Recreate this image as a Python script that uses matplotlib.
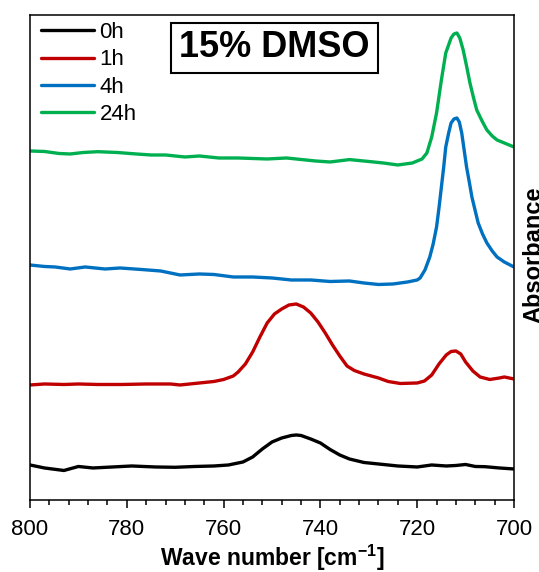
import matplotlib
matplotlib.use("Agg")
import matplotlib.pyplot as plt
from matplotlib.ticker import MultipleLocator

plt.rcParams['font.family'] = ['Liberation Sans', 'DejaVu Sans']
plt.rcParams['mathtext.fontset'] = 'custom'
plt.rcParams['mathtext.rm'] = 'Liberation Sans:bold'

# 0h
w0 = [800, 797, 793, 790, 787, 783, 779, 774, 770, 766, 762, 759, 756, 754, 752, 750, 748, 746, 745, 744,
      742, 740, 738, 736, 734, 731, 728, 724, 720, 717, 714, 712, 710, 708, 706, 703, 700]
a0 = [0.35, 0.32, 0.295, 0.335, 0.32, 0.33, 0.34, 0.33, 0.327, 0.335, 0.34, 0.35, 0.38, 0.43, 0.51, 0.58, 0.62, 0.645, 0.65, 0.645,
      0.61, 0.57, 0.505, 0.45, 0.41, 0.375, 0.36, 0.34, 0.33, 0.35, 0.34, 0.345, 0.355, 0.335, 0.333, 0.32, 0.31]

# 1h
w1 = [800, 797, 793, 790, 786, 781, 776, 771, 769, 765, 762, 760, 758, 757, 755.5, 754, 752.5, 751, 749.5, 748,
      746.5, 745, 743.5, 742, 740.5, 739, 737.5, 736, 734.5, 733, 731, 728, 726, 723.5, 720, 718.5, 717, 715.5, 714, 713,
      712, 711, 710, 708.5, 707, 705, 703, 702, 700]
a1 = [1.15, 1.16, 1.155, 1.16, 1.155, 1.155, 1.16, 1.16, 1.15, 1.17, 1.185, 1.205, 1.24, 1.28, 1.36, 1.48, 1.63, 1.77, 1.86, 1.91,
      1.95, 1.96, 1.93, 1.87, 1.78, 1.67, 1.55, 1.44, 1.34, 1.295, 1.26, 1.22, 1.185, 1.165, 1.17, 1.19, 1.25, 1.36, 1.45, 1.485,
      1.49, 1.46, 1.38, 1.29, 1.23, 1.205, 1.22, 1.23, 1.21]

# 4h
w4 = [800, 797, 794.8, 791.7, 788.6, 784.5, 781.4, 777, 773, 769, 765, 762, 758, 754, 750, 746, 742, 738, 734, 731,
      728, 725, 722, 720, 719.4, 718.4, 717.4, 716.7, 716, 715.5, 715, 714.5, 714.1, 713.5, 713, 712.4, 711.8, 711.3, 710.8, 710.3,
      709.8, 709.2, 708.7, 708, 707.4, 706.5, 705.6, 704.5, 703.5, 702, 700]
a4 = [2.35, 2.335, 2.33, 2.31, 2.33, 2.31, 2.32, 2.305, 2.29, 2.25, 2.26, 2.255, 2.23, 2.23, 2.22, 2.20, 2.20, 2.185, 2.19, 2.17,
      2.155, 2.16, 2.18, 2.20, 2.22, 2.30, 2.43, 2.56, 2.73, 2.92, 3.13, 3.34, 3.53, 3.67, 3.77, 3.81, 3.82, 3.78, 3.67, 3.50,
      3.33, 3.17, 3.03, 2.89, 2.77, 2.66, 2.57, 2.49, 2.43, 2.38, 2.33]

# 24h
w24 = [800, 797, 794, 791.7, 789, 786, 782, 778, 775, 772, 768, 765, 761, 757, 754, 751, 747, 744, 741, 738,
       734, 730, 727, 724, 721, 719, 718, 717, 716, 715, 714.1, 713, 712.4, 711.8, 711.2, 710.5, 709.8, 709.1, 708.4, 707.7,
       706.6, 705.6, 704.5, 703.5, 702, 700]
a24 = [3.49, 3.485, 3.465, 3.46, 3.475, 3.483, 3.475, 3.46, 3.45, 3.45, 3.43, 3.44, 3.42, 3.42, 3.415, 3.41, 3.42, 3.405, 3.39, 3.38,
       3.404, 3.385, 3.37, 3.35, 3.37, 3.41, 3.47, 3.63, 3.87, 4.20, 4.47, 4.62, 4.66, 4.67, 4.62, 4.50, 4.34, 4.17, 4.03, 3.90,
       3.79, 3.70, 3.64, 3.60, 3.57, 3.53]

labels = ['0h', '1h', '4h', '24h']
colors = ['#000000', '#C00000', '#0070C0', '#00B050']

fig = plt.figure(figsize=(5.39, 5.72), dpi=100)
ax = fig.add_axes([0.0557, 0.1259, 0.8979, 0.8479])

for w, a, lab, c in zip([w0, w1, w4, w24], [a0, a1, a4, a24], labels, colors):
    ax.plot(w, a, color=c, lw=2.4, label=lab, solid_joinstyle='round', solid_capstyle='round')

ax.set_xlim(800, 700)
ax.set_ylim(0, 4.85)
ax.xaxis.set_major_locator(MultipleLocator(20))
ax.xaxis.set_minor_locator(MultipleLocator(4))
ax.tick_params(axis='x', which='major', direction='out', length=6, width=1.1, labelsize=16, pad=8)
ax.tick_params(axis='x', which='minor', direction='out', length=3.5, width=1.1)
ax.set_yticks([])
for s in ax.spines.values():
    s.set_linewidth(1.1)

ax.set_xlabel(r'Wave number [cm$^{-1}$]', fontsize=16.5, fontweight='bold', labelpad=2)
fig.text(0.9685, 0.554, 'Absorbance', rotation=90, ha='left', va='center',
         fontsize=17, fontweight='bold')

leg = ax.legend(loc='upper left', bbox_to_anchor=(0.022, 0.985), frameon=False,
                fontsize=16, handlelength=2.4, handletextpad=0.25, labelspacing=0.28,
                borderpad=0, borderaxespad=0)
for line in leg.get_lines():
    line.set_linewidth(2.4)

ax.text(0.505, 0.932, '15% DMSO', transform=ax.transAxes, ha='center', va='center',
        fontsize=26, fontweight='bold',
        bbox=dict(boxstyle='square,pad=0.22', fc='white', ec='black', lw=1.5))

fig.savefig('out.png', dpi=100)
